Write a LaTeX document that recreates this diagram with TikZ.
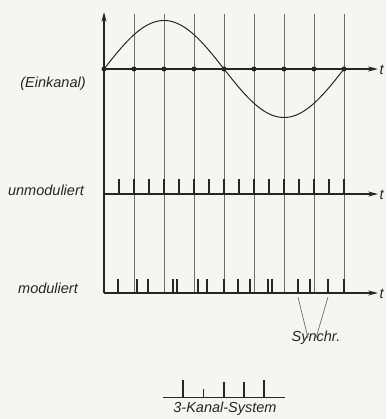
\documentclass[tikz,border=0pt]{standalone}
\usepackage{fontspec}
\setmainfont{Liberation Sans}
\usetikzlibrary{arrows.meta, positioning}
\definecolor{ink}{HTML}{262626}
\definecolor{paper}{HTML}{F5F5F3}
\definecolor{rule}{HTML}{6E6E6E}

\begin{document}
\begin{tikzpicture}[x=1pt, y=-1pt,
  axis/.style={-{Stealth[length=10pt, width=5pt]}, line width=1.3pt, ink},
  gridline/.style={line width=0.7pt, rule},
  pulse/.style={line width=2pt, ink},
  sample/.style={circle, fill=ink, inner sep=0pt, minimum size=5pt},
  label/.style={font=\fontsize{14.5}{16}\selectfont\itshape, text=ink, inner sep=0pt},
  wave/.style={line width=1pt, ink}
]
  \fill[paper] (0,0) rectangle (386,419);
  \useasboundingbox (0,0) rectangle (386,419);

  % axes
  \coordinate (origin) at (104,293);
  \coordinate (top) at (104,12);
  \coordinate (einA) at (104,69);
  \coordinate (einB) at (378,69);
  \coordinate (unA) at (104,194);
  \coordinate (unB) at (378,194);
  \coordinate (modB) at (378,293);

  \foreach \k in {1,...,8}
    \draw[gridline] (104+30*\k,14) -- (104+30*\k,293);

  \draw[axis] (origin) -- (top);
  \draw[axis, line width=1.6pt] (einA) -- (einB);
  \draw[axis] (unA) -- (unB);
  \draw[axis] (origin) -- (modB);

  % signal and samples
  \draw[wave, domain=0:240, samples=120] plot ({104+\x},{69-48.5*sin(1.5*\x)});
  \foreach \k in {0,...,8}
    \node[sample] (s\k) at (104+30*\k,69) {};

  % pulse trains
  \foreach \p in {119,134,...,344}
    \draw[pulse] (\p,194) -- (\p,179);
  \foreach \p in {118,137,148,173,177,198,207,224,238,250,268,272,298,310,328,344}
    \draw[pulse] (\p,293) -- (\p,279);

  \node[label, anchor=west] (tein) at (379.5,70) {t};
  \node[label, anchor=west] (tun) at (379.5,195) {t};
  \node[label, anchor=west] (tmod) at (379.5,294) {t};

  \node[label] (einkanal) at (53,84) {(Einkanal)};
  \node[label] (unmod) at (46,190) {unmoduliert};
  \node[label] (mod) at (48,288) {moduliert};

  % sync marks
  \node[label] (synchr) at (316,338) {Synchr.};
  \coordinate (sync1) at (298,297);
  \coordinate (sync2) at (328,297);
  \draw[gridline] (sync1) -- ([xshift=-8pt, yshift=-7pt]synchr.north);
  \draw[gridline] (sync2) -- ([xshift=0pt, yshift=-7pt]synchr.north);

  % frame legend
  \coordinate (legA) at (163,397);
  \coordinate (legB) at (285,397);
  \draw[line width=0.8pt, ink] (legA) -- (legB);
  \draw[pulse, line width=2.6pt] (183,397) -- (183,380);
  \draw[pulse, line width=1pt] (203,397) -- (203,389);
  \draw[pulse, line width=1.3pt] (224,397) -- (224,382);
  \draw[pulse, line width=1.3pt] (244,397) -- (244,382);
  \draw[pulse, line width=2.6pt] (264,397) -- (264,380);
  \node[label] (system) at (225,409) {3-Kanal-System};
\end{tikzpicture}
\end{document}
